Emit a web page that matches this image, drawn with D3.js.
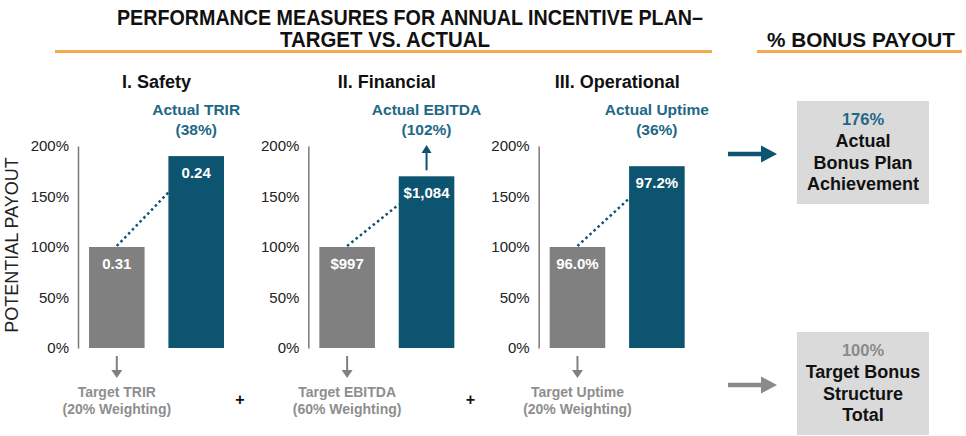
<!DOCTYPE html>
<html>
<head>
<meta charset="utf-8">
<script src="https://cdn.jsdelivr.net/npm/d3@7"></script>
<style>
  html, body { margin: 0; padding: 0; background: #fff; }
  svg { display: block; font-family: "Liberation Sans", Arial, sans-serif; }
</style>
</head>
<body>
<svg id="chart" width="966" height="436"></svg>
<script>
// ---- data ----
const categories = ["I. Safety", "II. Financial", "III. Operational"];
const targetValues = [100, 100, 100];
const actualValues = [190, 170, 180];
const targetLabels = ["0.31", "$997", "96.0%"];
const actualLabels = ["0.24", "$1,084", "97.2%"];
const actualTitles = ["Actual TRIR", "Actual EBITDA", "Actual Uptime"];
const contributions = ["(38%)", "(102%)", "(36%)"];
const targetTitles = ["Target TRIR", "Target EBITDA", "Target Uptime"];
const weightings = ["(20% Weighting)", "(60% Weighting)", "(20% Weighting)"];
const upArrow = [false, true, false];
const yTicks = [0, 50, 100, 150, 200];
const actualBonus = 176;
const targetBonus = 100;
const actualBoxLines = ["Actual", "Bonus Plan", "Achievement"];
const targetBoxLines = ["Target Bonus", "Structure", "Total"];

// ---- styles ----
const GRAY = "#808080", TEAL = "#0d5470", TEAL_TXT = "#1e6886", ORANGE = "#f2a950", BOX = "#dadada", LGRAY = "#8e8e8e";

const svg = d3.select("#chart");

const y = d3.scaleLinear().domain([0, 200]).range([348, 146]);
const panelX = d3.scaleBand().domain(categories).range([78, 769]);

// Title
const title = svg.append("g").attr("font-family", "'Liberation Sans Narrow', 'Arial Narrow', 'Liberation Sans', sans-serif")
  .attr("font-weight", "bold").attr("font-size", 21.5).attr("fill", "#111").attr("text-anchor", "middle");
title.append("text").attr("x", 410).attr("y", 25).attr("textLength", 586).attr("lengthAdjust", "spacingAndGlyphs")
  .text("PERFORMANCE MEASURES FOR ANNUAL INCENTIVE PLAN–");
title.append("text").attr("x", 385).attr("y", 47).attr("textLength", 210).attr("lengthAdjust", "spacingAndGlyphs")
  .text("TARGET VS. ACTUAL");
title.append("text").attr("x", 861).attr("y", 47).attr("textLength", 188).attr("lengthAdjust", "spacingAndGlyphs")
  .attr("font-size", 21).text("% BONUS PAYOUT");
svg.append("line").attr("x1", 55).attr("x2", 712).attr("y1", 51.5).attr("y2", 51.5).attr("stroke", ORANGE).attr("stroke-width", 3);
svg.append("line").attr("x1", 757).attr("x2", 962).attr("y1", 51.5).attr("y2", 51.5).attr("stroke", ORANGE).attr("stroke-width", 3);

// Y axis label
svg.append("text").attr("transform", "translate(18,245) rotate(-90)").attr("text-anchor", "middle")
  .attr("font-size", 18).attr("fill", "#222").text("POTENTIAL PAYOUT");

function arrow(g, x1, y1, x2, y2, color, w, head) {
  const ang = Math.atan2(y2 - y1, x2 - x1);
  const bx = x2 - Math.cos(ang) * head.len, by = y2 - Math.sin(ang) * head.len;
  g.append("line").attr("x1", x1).attr("y1", y1).attr("x2", bx + Math.cos(ang)).attr("y2", by + Math.sin(ang))
    .attr("stroke", color).attr("stroke-width", w);
  const px = -Math.sin(ang) * head.half, py = Math.cos(ang) * head.half;
  g.append("path").attr("d", `M${x2},${y2}L${bx + px},${by + py}L${bx - px},${by - py}Z`).attr("fill", color);
}

categories.forEach((cat, i) => {
  const ax = panelX(cat);
  const g = svg.append("g");
  const x = d3.scaleBand().domain(["target", "actual"]).range([ax + 11, ax + 146]).paddingInner(0.3);
  const bw = x.bandwidth();

  const axis = d3.axisLeft(y).tickValues(yTicks).tickFormat(d => d + "%").tickSize(0).tickPadding(9).tickSizeOuter(0);
  const ag = g.append("g").attr("transform", `translate(${ax},0)`).call(axis);
  ag.select(".domain").attr("stroke", "#7a7a7a").attr("stroke-width", 1.5);
  ag.selectAll("text").attr("font-size", 15).attr("font-family", "'Liberation Sans', Arial, sans-serif").attr("fill", "#222");

  g.append("rect").attr("x", x("target")).attr("y", y(targetValues[i])).attr("width", bw)
    .attr("height", y(0) - y(targetValues[i])).attr("fill", GRAY);
  g.append("rect").attr("x", x("actual")).attr("y", y(actualValues[i])).attr("width", bw)
    .attr("height", y(0) - y(actualValues[i])).attr("fill", TEAL);

  const endV = targetValues[i] + (actualValues[i] - targetValues[i]) * 0.6;
  g.append("line").attr("x1", x("target") + bw / 2).attr("y1", y(targetValues[i]) - 1)
    .attr("x2", x("actual")).attr("y2", y(endV))
    .attr("stroke", TEAL).attr("stroke-width", 2.5).attr("stroke-dasharray", "2.5,3");

  g.append("text").attr("x", x("target") + bw / 2).attr("y", y(targetValues[i]) + 22).attr("text-anchor", "middle")
    .attr("font-weight", "bold").attr("font-size", 15).attr("fill", "#fff").text(targetLabels[i]);
  g.append("text").attr("x", x("actual") + bw / 2).attr("y", y(actualValues[i]) + 22).attr("text-anchor", "middle")
    .attr("font-weight", "bold").attr("font-size", 15).attr("fill", "#fff").text(actualLabels[i]);

  g.append("text").attr("x", (x("target") + x("actual") + bw) / 2).attr("y", 88).attr("text-anchor", "middle")
    .attr("font-weight", "bold").attr("font-size", 18).attr("fill", "#111").text(cat);

  const acx = x("actual") + bw / 2;
  g.append("text").attr("x", acx).attr("y", 115).attr("text-anchor", "middle")
    .attr("font-weight", "bold").attr("font-size", 15.5).attr("fill", TEAL_TXT).text(actualTitles[i]);
  g.append("text").attr("x", acx).attr("y", 135).attr("text-anchor", "middle")
    .attr("font-weight", "bold").attr("font-size", 15.5).attr("fill", TEAL_TXT).text(contributions[i]);
  if (upArrow[i]) arrow(g, acx, y(actualValues[i]) - 6, acx, 145, TEAL, 2, { len: 8, half: 5 });

  const tcx = x("target") + bw / 2;
  arrow(g, tcx, 356, tcx, 378, GRAY, 2, { len: 8, half: 5.5 });
  g.append("text").attr("x", tcx).attr("y", 397).attr("text-anchor", "middle")
    .attr("font-weight", "bold").attr("font-size", 14).attr("fill", LGRAY).text(targetTitles[i]);
  g.append("text").attr("x", tcx).attr("y", 414).attr("text-anchor", "middle")
    .attr("font-weight", "bold").attr("font-size", 14).attr("fill", LGRAY).text(weightings[i]);

  if (i < categories.length - 1) {
    g.append("text").attr("x", ax + 162).attr("y", 405).attr("text-anchor", "middle")
      .attr("font-weight", "bold").attr("font-size", 16).attr("fill", "#111").text("+");
  }
});

function box(y0, pct, pctColor, lines, arrowColor) {
  const g = svg.append("g");
  g.append("rect").attr("x", 797).attr("y", y0).attr("width", 132).attr("height", 103).attr("fill", BOX);
  g.append("text").attr("x", 863).attr("y", y0 + 24).attr("text-anchor", "middle").attr("font-weight", "bold")
    .attr("font-size", 16.5).attr("fill", pctColor).text(pct + "%");
  lines.forEach((t, k) => {
    g.append("text").attr("x", 863).attr("y", y0 + 46 + k * 21.5).attr("text-anchor", "middle")
      .attr("font-weight", "bold").attr("font-size", 18).attr("fill", "#111").text(t);
  });
  arrow(g, 728, y0 + 53, 777, y0 + 53, arrowColor, 4.5, { len: 16, half: 8.5 });
}
box(101, actualBonus, TEAL_TXT, actualBoxLines, TEAL);
box(332, targetBonus, "#8a8a8a", targetBoxLines, "#8a8a8a");
</script>
</body>
</html>
